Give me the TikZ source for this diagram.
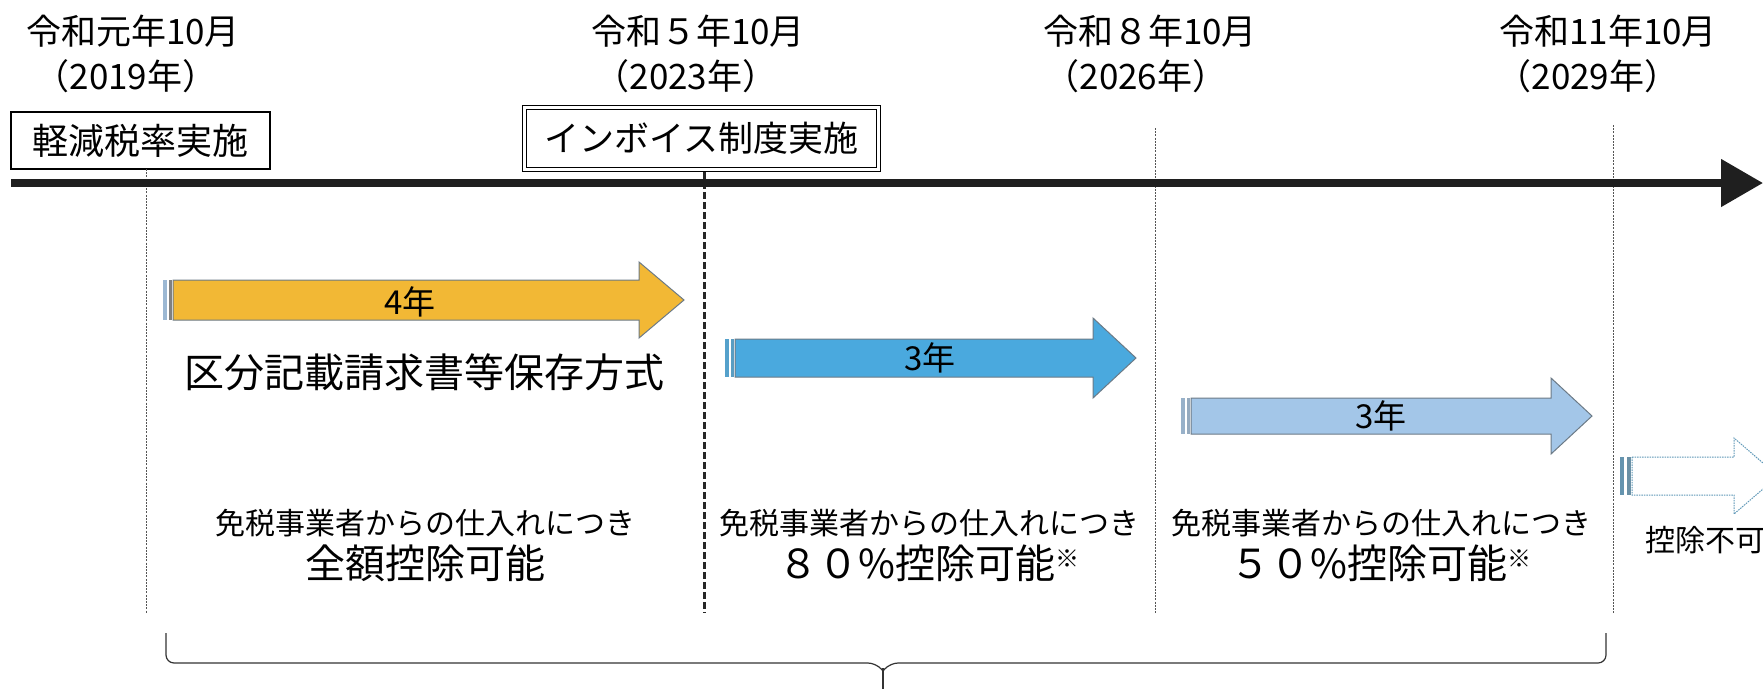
\documentclass[tikz,border=0pt]{standalone}
\usepackage{fontspec}
\setmainfont{Noto Sans CJK JP}
\usetikzlibrary{arrows.meta}
\newcommand\fs[1]{\fontsize{#1}{#1}\selectfont}
\definecolor{ygold}{HTML}{F2B835}
\definecolor{bblue}{HTML}{4AA9DE}
\definecolor{lblue}{HTML}{A3C6E8}
\definecolor{edgegray}{HTML}{6C7A86}
\definecolor{linegray}{HTML}{555555}
\tikzset{
  datetxt/.style={font=\fs{35}, inner sep=0pt},
  labelbox/.style={draw, line width=1.2pt, font=\fs{36}, inner sep=0pt},
  dblbox/.style={draw, double, double distance=3pt, line width=1pt, font=\fs{35}, inner sep=0pt},
  thinv/.style={linegray, line width=0.8pt, dash pattern=on 2pt off 1.2pt},
  thickv/.style={black!85, line width=3pt, dash pattern=on 7pt off 3pt},
  yarrow/.style={fill=ygold, draw=edgegray, line width=1pt},
  barrow/.style={fill=bblue, draw=edgegray, line width=1pt},
  larrow/.style={fill=lblue, draw=edgegray, line width=1pt},
  warrow/.style={fill=white, draw=bblue!60!gray, line width=1pt, dash pattern=on 1.5pt off 1pt},
  yrtxt/.style={font=\fs{33}, inner sep=0pt},
  smalltxt/.style={font=\fs{30}, inner sep=0pt},
  bigtxt/.style={font=\fs{40}, inner sep=0pt},
  bracepath/.style={line width=1.2pt, black!80, rounded corners=8pt}
}
% left, tip, cy, halfbody, halfhead, headlen, style
\newcommand\tarrow[7]{%
  \draw[#7] (#1,#3-#4) -- (#2-#6,#3-#4) -- (#2-#6,#3-#5) -- (#2,#3) --
    (#2-#6,#3+#5) -- (#2-#6,#3+#4) -- (#1,#3+#4) -- cycle;}
\newcommand\kome{{\fs{24}\raisebox{11pt}{※}}}
\begin{document}
\begin{tikzpicture}[x=1pt, y=-1pt]
\useasboundingbox (0,0) rectangle (1763,689);
\fill[white] (0,0) rectangle (1763,689);

% dates
\node[datetxt] (d1a) at (133,31) {令和元年10月};
\node[datetxt] (d1b) at (126,76) {（2019年）};
\node[datetxt] (d2a) at (698,31) {令和５年10月};
\node[datetxt] (d2b) at (686,76) {（2023年）};
\node[datetxt] (d3a) at (1150,31) {令和８年10月};
\node[datetxt] (d3b) at (1136,76) {（2026年）};
\node[datetxt] (d4a) at (1608,31) {令和11年10月};
\node[datetxt] (d4b) at (1588,76) {（2029年）};

% boxes
\node[labelbox, minimum width=259pt, minimum height=57pt] (b1) at (140.5,140.5) {軽減税率実施};
\node[dblbox, minimum width=354pt, minimum height=62pt] (b2) at (701.5,138) {インボイス制度実施};

% vertical lines
\coordinate (v1t) at (146,169); \coordinate (v1b) at (146,613);
\coordinate (v2t) at (704,172); \coordinate (v2b) at (704,613);
\coordinate (v3t) at (1155,128); \coordinate (v3b) at (1155,613);
\coordinate (v4t) at (1613,125); \coordinate (v4b) at (1613,613);
\draw[thinv] (v1t) -- (v1b);
\draw[thickv] (v2t) -- (v2b);
\draw[thinv] (v3t) -- (v3b);
\draw[thinv] (v4t) -- (v4b);

% timeline
\coordinate (ts) at (11,183);
\coordinate (te) at (1763,183);
\draw[line width=8pt, black!88, -{Triangle[length=42pt, width=46pt]}] (ts) -- (te);

% period arrows
\fill[lblue!80!gray] (163,280) rectangle (167,320);
\fill[gray] (169,280) rectangle (172,320);
\tarrow{173}{684}{300}{20}{38}{45}{yarrow}
\node[yrtxt] (y4) at (410,302) {4年};
\node[bigtxt] (kubun) at (424,372) {区分記載請求書等保存方式};

\fill[bblue!80!gray] (725,339) rectangle (729,377);
\fill[bblue!70!gray] (731,339) rectangle (734,377);
\tarrow{735}{1136}{358}{19}{40}{43}{barrow}
\node[yrtxt] (y3a) at (930,358) {3年};

\fill[lblue!70!gray] (1181,398) rectangle (1185,434);
\fill[lblue!60!gray] (1187,398) rectangle (1190,434);
\tarrow{1191}{1592}{416}{18}{38}{41}{larrow}
\node[yrtxt] (y3b) at (1381,416) {3年};

\fill[bblue!50!gray] (1620,457) rectangle (1624,495);
\fill[bblue!40!gray] (1627,457) rectangle (1631,495);
\tarrow{1632}{1778}{476}{19}{38}{44}{warrow}

% descriptions
\node[smalltxt] (t1a) at (425,523) {免税事業者からの仕入れにつき};
\node[bigtxt] (t1b) at (425,563) {全額控除可能};
\node[smalltxt] (t2a) at (929,523) {免税事業者からの仕入れにつき};
\node[bigtxt] (t2b) at (929,563) {８０\%控除可能\kome};
\node[smalltxt] (t3a) at (1381,523) {免税事業者からの仕入れにつき};
\node[bigtxt] (t3b) at (1381,563) {５０\%控除可能\kome};
\node[smalltxt, anchor=west] (t4) at (1645,540) {控除不可};

% brace
\coordinate (brl) at (166,633);
\coordinate (brr) at (1606,633);
\coordinate (brm) at (883,689);
\draw[bracepath] (brl) -- (166,663) -- (876,663) -- (883,671);
\draw[bracepath] (brr) -- (1606,663) -- (890,663) -- (883,671);
\draw[line width=1.2pt, black!80] (883,668) -- (brm);
\end{tikzpicture}
\end{document}
